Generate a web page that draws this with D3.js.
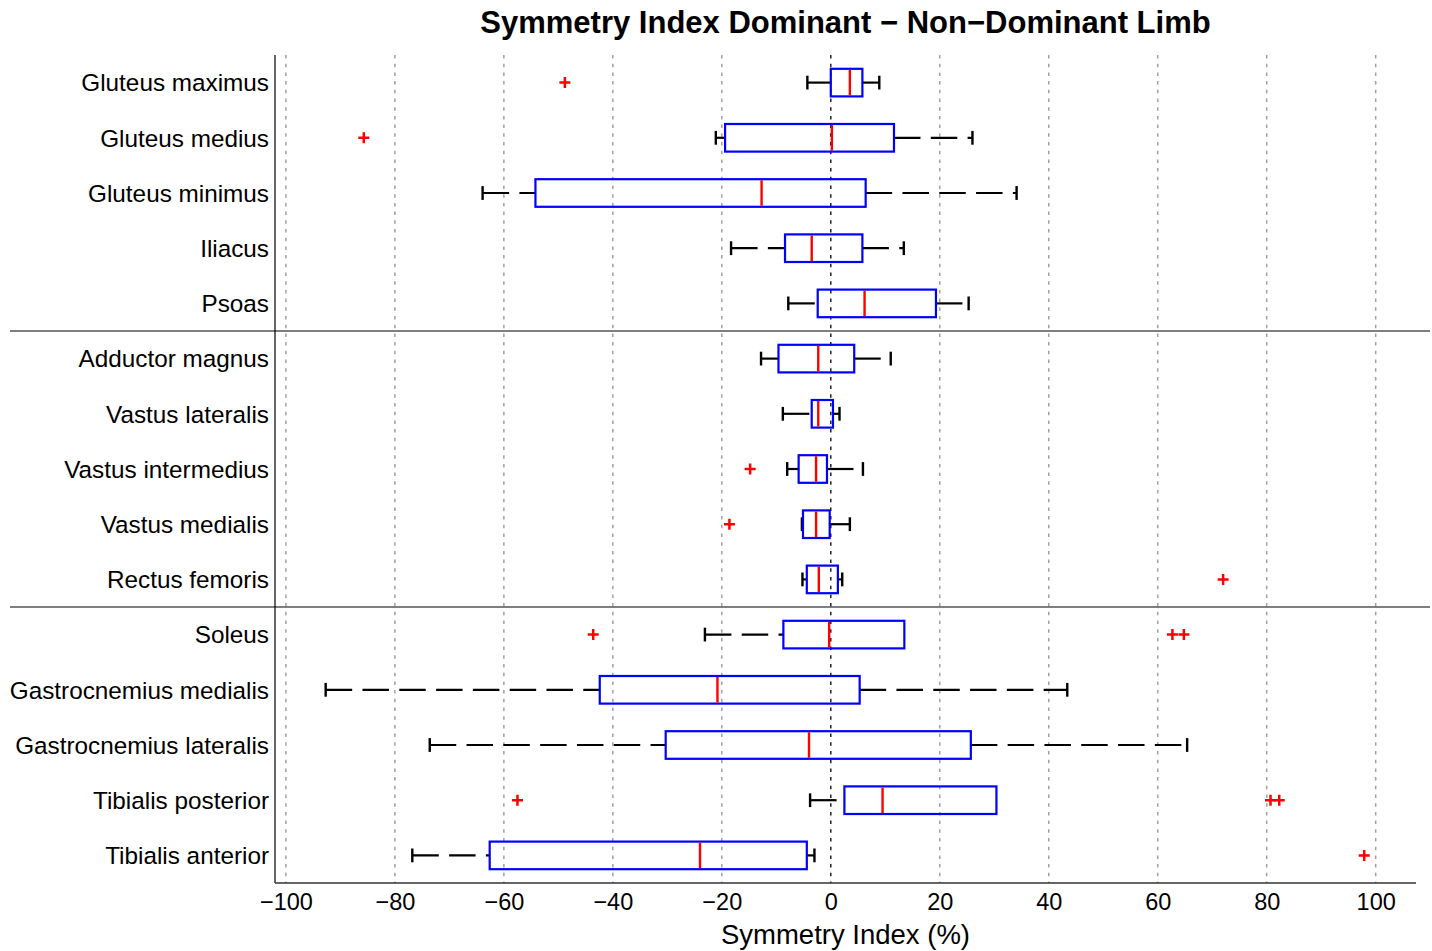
<!DOCTYPE html>
<html>
<head>
<meta charset="utf-8">
<script src="https://cdn.jsdelivr.net/npm/d3@7"></script>
<style>
  html, body { margin: 0; padding: 0; background: #fff; }
  svg { display: block; }
  text { font-family: "Liberation Sans", Arial, Helvetica, sans-serif; fill: #000; }
</style>
</head>
<body>
<svg id="chart" width="1432" height="951"></svg>
<script>
const muscles = [
  "Gluteus maximus", "Gluteus medius", "Gluteus minimus", "Iliacus", "Psoas",
  "Adductor magnus", "Vastus lateralis", "Vastus intermedius", "Vastus medialis", "Rectus femoris",
  "Soleus", "Gastrocnemius medialis", "Gastrocnemius lateralis", "Tibialis posterior", "Tibialis anterior"
];
const lowerWhisker = [-4.3, -21.1, -63.9, -18.3, -7.8, -12.8, -8.8, -8.0, -5.3, -5.2, -23.1, -92.7, -73.6, -3.8, -76.8];
const q1Values     = [0.0, -19.4, -54.2, -8.4, -2.4, -9.6, -3.5, -5.9, -5.1, -4.4, -8.7, -42.4, -30.3, 2.5, -62.6];
const medianValues = [3.5, 0.2, -12.7, -3.5, 6.2, -2.3, -2.3, -2.7, -2.7, -2.2, -0.3, -20.8, -4.0, 9.5, -24.0];
const q3Values     = [5.8, 11.6, 6.4, 5.8, 19.3, 4.3, 0.4, -0.7, -0.2, 1.3, 13.5, 5.3, 25.7, 30.4, -4.4];
const upperWhisker = [8.9, 26.0, 34.1, 13.4, 25.3, 11.0, 1.6, 5.9, 3.5, 2.1, 13.5, 43.4, 65.4, 30.4, -3.0];
const outlierValues = [
  [-48.8], [-85.7], [], [], [],
  [], [], [-14.8], [-18.6], [72.0],
  [-43.6, 62.7, 64.8], [], [], [-57.5, 80.7, 82.3], [97.9]
];
const groupBreaks = [5, 10];
const xTicks = [-100, -80, -60, -40, -20, 0, 20, 40, 60, 80, 100];
const xDomain = [-102, 107.4];
const titleText = "Symmetry Index Dominant \u2212 Non\u2212Dominant Limb";
const xLabelText = "Symmetry Index (%)";

const svg = d3.select("#chart");
const margin = { left: 275, right: 16, top: 55, bottom: 68 };
const W = 1432, H = 951;
const x = d3.scaleLinear().domain(xDomain).range([margin.left, W - margin.right]);
const y = d3.scaleBand().domain(muscles).range([margin.top, H - margin.bottom]).padding(0);
const bw = y.bandwidth();
const cy = d => y(d) + bw / 2;

// grid
const grid = svg.append("g");
grid.selectAll("line").data(xTicks).join("line")
  .attr("x1", d => x(d)).attr("x2", d => x(d))
  .attr("y1", margin.top).attr("y2", H - margin.bottom)
  .attr("stroke", d => d === 0 ? "#222" : "#a0a0a0")
  .attr("stroke-width", 1.5)
  .attr("stroke-dasharray", "3.5,5.2");

// group separators
svg.append("g").selectAll("line").data(groupBreaks).join("line")
  .attr("x1", 10).attr("x2", 1430)
  .attr("y1", d => y(muscles[d])).attr("y2", d => y(muscles[d]))
  .attr("stroke", "#555").attr("stroke-width", 1.5);

// axes lines
svg.append("line").attr("x1", margin.left).attr("x2", margin.left)
  .attr("y1", margin.top).attr("y2", H - margin.bottom).attr("stroke", "#000").attr("stroke-width", 1.2);
svg.append("line").attr("x1", margin.left).attr("x2", W - margin.right)
  .attr("y1", H - margin.bottom).attr("y2", H - margin.bottom).attr("stroke", "#333").attr("stroke-width", 1.5);

const rows = muscles.map((m, i) => ({
  m, lw: lowerWhisker[i], q1: q1Values[i], med: medianValues[i], q3: q3Values[i], uw: upperWhisker[i], out: outlierValues[i]
}));

const boxH = bw * 0.5;
const capH = bw * 0.25;
const g = svg.append("g");

// whiskers (drawn from lower x to higher x)
rows.forEach(r => {
  const segs = [];
  if (r.lw < r.q1) segs.push([r.lw, r.q1]);
  if (r.uw > r.q3) segs.push([r.q3, r.uw]);
  segs.forEach(s => {
    g.append("line")
      .attr("x1", x(s[0])).attr("x2", x(s[1]))
      .attr("y1", cy(r.m)).attr("y2", cy(r.m))
      .attr("stroke", "#000").attr("stroke-width", 2.2)
      .attr("stroke-dasharray", "26.5,10.3");
  });
  [[r.lw, r.lw < r.q1], [r.uw, r.uw > r.q3]].forEach(([v, show]) => {
    if (!show) return;
    g.append("line")
      .attr("x1", x(v)).attr("x2", x(v))
      .attr("y1", cy(r.m) - capH / 2).attr("y2", cy(r.m) + capH / 2)
      .attr("stroke", "#000").attr("stroke-width", 2.4);
  });
});

// boxes
g.selectAll("rect.box").data(rows).join("rect").attr("class", "box")
  .attr("x", d => x(d.q1)).attr("width", d => x(d.q3) - x(d.q1))
  .attr("y", d => cy(d.m) - boxH / 2).attr("height", boxH)
  .attr("fill", "none").attr("stroke", "#0000ff").attr("stroke-width", 2.2);

// medians
g.selectAll("line.med").data(rows).join("line").attr("class", "med")
  .attr("x1", d => x(d.med)).attr("x2", d => x(d.med))
  .attr("y1", d => cy(d.m) - boxH / 2 + 1).attr("y2", d => cy(d.m) + boxH / 2 - 1)
  .attr("stroke", "#ff0000").attr("stroke-width", 2.4);

// outliers
const outs = rows.flatMap(r => r.out.map(v => ({ m: r.m, v })));
const ps = 5.5;
g.selectAll("path.out").data(outs).join("path").attr("class", "out")
  .attr("d", d => `M${x(d.v) - ps},${cy(d.m)}H${x(d.v) + ps}M${x(d.v)},${cy(d.m) - ps}V${cy(d.m) + ps}`)
  .attr("stroke", "#ff0000").attr("stroke-width", 2.5).attr("fill", "none");

// y labels
svg.append("g").selectAll("text").data(muscles).join("text")
  .attr("x", 269).attr("y", d => cy(d)).attr("dy", "0.36em")
  .attr("text-anchor", "end").attr("font-size", 24.3).text(d => d);

// x tick labels
const xAxis = d3.axisBottom(x).tickValues(xTicks).tickSize(0).tickPadding(10);
const ax = svg.append("g").attr("transform", `translate(0,${H - margin.bottom})`).call(xAxis);
ax.select(".domain").remove();
ax.selectAll("text").attr("font-size", 23.5).attr("font-family", '"Liberation Sans", Arial, sans-serif').attr("fill", "#000");

// x label
svg.append("text").attr("x", (margin.left + W - margin.right) / 2).attr("y", 944)
  .attr("text-anchor", "middle").attr("font-size", 27.5).text(xLabelText);

// title
svg.append("text").attr("x", (margin.left + W - margin.right) / 2).attr("y", 33)
  .attr("text-anchor", "middle").attr("font-size", 31).attr("font-weight", "bold").text(titleText);
</script>
</body>
</html>
